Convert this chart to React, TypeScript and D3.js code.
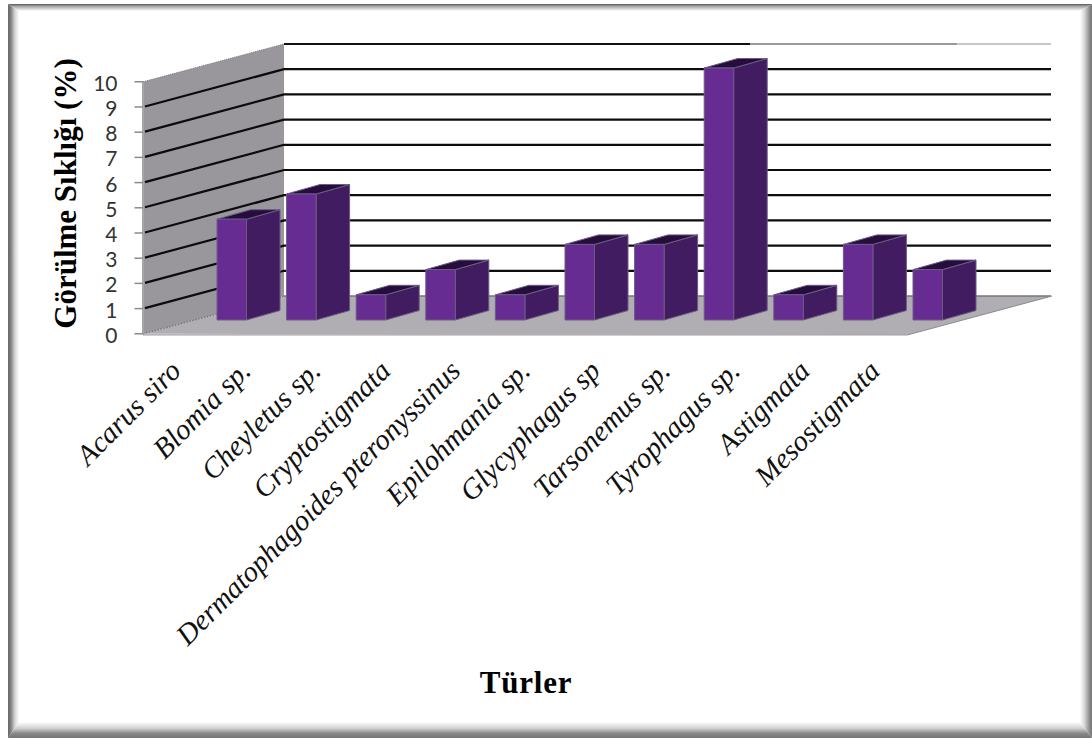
import React from "react";
import * as d3 from "d3";

const categories = [
  "Acarus siro",
  "Blomia sp.",
  "Cheyletus sp.",
  "Cryptostigmata",
  "Dermatophagoides pteronyssinus",
  "Epilohmania sp.",
  "Glycyphagus sp",
  "Tarsonemus sp.",
  "Tyrophagus sp.",
  "Astigmata",
  "Mesostigmata",
];
const frequency = [4, 5, 1, 2, 1, 3, 3, 10, 1, 3, 2];
const tickValues = [0, 1, 2, 3, 4, 5, 6, 7, 8, 9, 10];
const yTitle = "Görülme Sıklığı (%)";
const xTitle = "Türler";

const W = 1092;
const H = 738;

// Oblique projection: the value axis on the front edge and on the back wall.
const yFront = d3.scaleLinear().domain([0, 10]).range([333.8, 81.8]);
const yBack = d3.scaleLinear().domain([0, 10]).range([296, 44]);
const yBar = d3.scaleLinear().domain([0, 10]).range([320, 68]);
const xBar = d3.scalePoint<string>().domain(categories).range([217, 913]);
const xLabel = d3.scalePoint<string>().domain(categories).range([182.5, 881.5]);

const FRONT_X = 143;
const BACK_X = 284;
const RIGHT_X = 1051;
const FLOOR_FRONT_RIGHT = 908;
const BAR_W = 29.5;
const DEPTH_X = 33.5;
const DEPTH_Y = 9.5;

const poly = d3.line<[number, number]>();
const closed = (pts: [number, number][]) => `${poly(pts)}Z`;

const serif = "'Liberation Serif', 'Times New Roman', serif";

function Frame() {
  const l = 8, t = 4, r = 1092, b = 738;
  const li = 19, ti = 11, ri = 1080, bi = 722;
  return (
    <g>
      <defs>
        <linearGradient id="edgeL" x1="0" x2="1" y1="0" y2="0">
          <stop offset="0" stopColor="#666" />
          <stop offset="0.25" stopColor="#808080" />
          <stop offset="0.6" stopColor="#d0d0d0" />
          <stop offset="1" stopColor="#fff" />
        </linearGradient>
        <linearGradient id="edgeT" x1="0" x2="0" y1="0" y2="1">
          <stop offset="0" stopColor="#555" />
          <stop offset="0.3" stopColor="#a0a0a0" />
          <stop offset="1" stopColor="#fff" />
        </linearGradient>
        <linearGradient id="edgeR" x1="1" x2="0" y1="0" y2="0">
          <stop offset="0" stopColor="#777" />
          <stop offset="0.2" stopColor="#8a8a8a" />
          <stop offset="0.6" stopColor="#d2d2d2" />
          <stop offset="1" stopColor="#fff" />
        </linearGradient>
        <linearGradient id="edgeB" x1="0" x2="0" y1="1" y2="0">
          <stop offset="0" stopColor="#747474" />
          <stop offset="0.3" stopColor="#8a8a8a" />
          <stop offset="0.6" stopColor="#d0d0d0" />
          <stop offset="1" stopColor="#fff" />
        </linearGradient>
      </defs>
      <path d={closed([[l, t], [r, t], [ri, ti], [li, ti]])} fill="url(#edgeT)" />
      <path d={closed([[l, b], [r, b], [ri, bi], [li, bi]])} fill="url(#edgeB)" />
      <path d={closed([[l, t], [li, ti], [li, bi], [l, b]])} fill="url(#edgeL)" />
      <path d={closed([[r, t], [ri, ti], [ri, bi], [r, b]])} fill="url(#edgeR)" />
    </g>
  );
}

function Walls() {
  const topSegments: [number, number, string][] = [
    [BACK_X, 750, "#111"],
    [750, 957, "#9a9a9a"],
    [957, RIGHT_X, "#c8c8c8"],
  ];
  // The wall's grid lines begin just inside the axis line.
  const wallStart = (v: number): [number, number] => [
    FRONT_X + 2,
    yFront(v) - (2 * (yFront(v) - yBack(v))) / (BACK_X - FRONT_X),
  ];
  return (
    <g>
      <path
        d={closed([
          [FRONT_X, yFront(0)],
          [BACK_X, yBack(0)],
          [RIGHT_X + 1, yBack(0)],
          [FLOOR_FRONT_RIGHT, yFront(0) + 1],
        ])}
        fill="#b0aeb3"
      />
      <path
        d={closed([
          [FRONT_X, yFront(10)],
          [BACK_X, yBack(10)],
          [BACK_X, yBack(0)],
          [FRONT_X, yFront(0)],
        ])}
        fill="#99979c"
      />
      <line x1={BACK_X} x2={RIGHT_X} y1={yBack(0)} y2={yBack(0)} stroke="#77757a" strokeWidth={1.5} />
      <line x1={FRONT_X} x2={FLOOR_FRONT_RIGHT} y1={yFront(0) + 1} y2={yFront(0) + 1} stroke="#a09ea3" strokeWidth={1.2} />
      <line x1={FLOOR_FRONT_RIGHT} x2={RIGHT_X + 1} y1={yFront(0) + 1} y2={yBack(0)} stroke="#8d8b90" strokeWidth={1} />
      <line
        x1={FRONT_X}
        x2={BACK_X}
        y1={yFront(10)}
        y2={yBack(10)}
        stroke="#77757a"
        strokeWidth={1}
        strokeDasharray="1 1"
      />
      <line
        x1={FRONT_X}
        x2={BACK_X}
        y1={yFront(0)}
        y2={yBack(0)}
        stroke="#6f6d72"
        strokeWidth={1.2}
        strokeDasharray="1.5 1.5"
      />

      {tickValues.slice(1, -1).map((v) => (
        <path
          key={v}
          d={poly([
            wallStart(v),
            [BACK_X, yBack(v)],
            [RIGHT_X, yBack(v)],
          ]) ?? ""}
          fill="none"
          stroke="#0c0c0c"
          strokeWidth={2.2}
        />
      ))}
      {topSegments.map(([a, b, c]) => (
        <line key={a} x1={a} x2={b} y1={yBack(10)} y2={yBack(10)} stroke={c} strokeWidth={1.8} />
      ))}
    </g>
  );
}

function ValueAxis() {
  return (
    <g>
      <line x1={FRONT_X} x2={FRONT_X} y1={yFront(10)} y2={yFront(0)} stroke="#a6a6a6" strokeWidth={2} />
      {tickValues.map((v) => (
        <g key={v}>
          <line x1={134.5} x2={FRONT_X} y1={yFront(v)} y2={yFront(v)} stroke="#8a8a8a" strokeWidth={1.5} />
          <text
            x={117.5}
            y={yFront(v) + 9}
            textAnchor="end"
            fontFamily="Lato, 'Open Sans', sans-serif"
            fontSize={21}
            fill="#333"
          >
            {v}
          </text>
        </g>
      ))}
    </g>
  );
}

function Bars() {
  return (
    <g stroke="#6c5b85" strokeWidth={1} strokeLinejoin="round">
      {categories.map((c, i) => {
        const x0 = xBar(c) ?? 0;
        const x1 = x0 + BAR_W;
        const y0 = yBar(0);
        const yt = yBar(frequency[i]);
        return (
          <g key={c}>
            <path
              d={closed([[x1, y0], [x1 + DEPTH_X, y0 - DEPTH_Y], [x1 + DEPTH_X, yt - DEPTH_Y], [x1, yt]])}
              fill="#421c60"
            />
            <path
              d={closed([[x0, yt], [x1, yt], [x1 + DEPTH_X, yt - DEPTH_Y], [x0 + DEPTH_X, yt - DEPTH_Y]])}
              fill="#250e3c"
            />
            <rect x={x0} y={yt} width={BAR_W} height={y0 - yt} fill="#662c91" />
          </g>
        );
      })}
    </g>
  );
}

function CategoryLabels() {
  return (
    <g fontFamily={serif} fontStyle="italic" fontSize={29} fill="#111">
      {categories.map((c) => (
        <text
          key={c}
          textAnchor="end"
          transform={`translate(${xLabel(c)},${372.5}) rotate(-45)`}
        >
          {c}
        </text>
      ))}
    </g>
  );
}

export default function App() {
  return (
    <svg
      width={W}
      height={H}
      viewBox={`0 0 ${W} ${H}`}
      style={{ position: "fixed", left: 0, top: 0, display: "block", background: "#fff" }}
    >
      <Frame />
      <Walls />
      <ValueAxis />
      <Bars />
      <CategoryLabels />
      <text
        transform="translate(76,193.5) rotate(-90)"
        textAnchor="middle"
        fontFamily={serif}
        fontWeight="bold"
        fontSize={31}
        fill="#000"
      >
        {yTitle}
      </text>
      <text
        x={526}
        y={693}
        textAnchor="middle"
        fontFamily={serif}
        fontWeight="bold"
        fontSize={31}
        letterSpacing={0.8}
        fill="#000"
      >
        {xTitle}
      </text>
    </svg>
  );
}
